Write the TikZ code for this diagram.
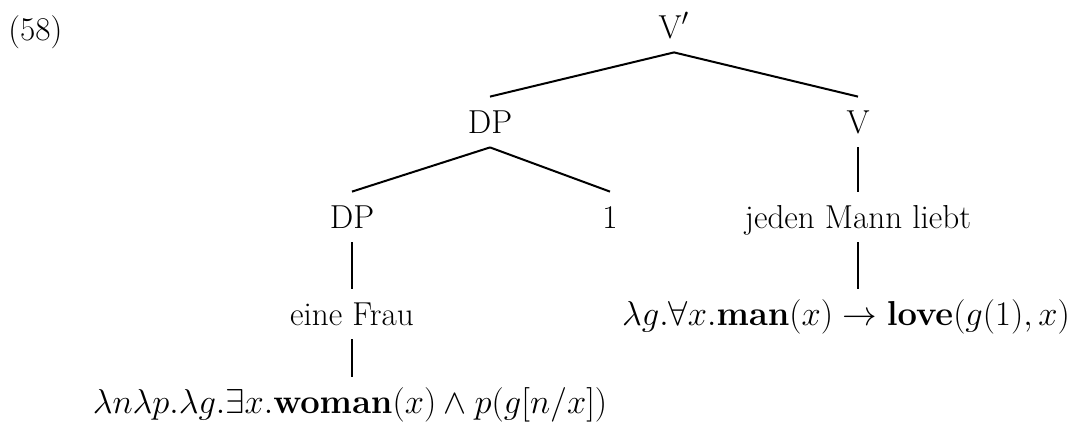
\documentclass[tikz,border=0pt]{standalone}
\usepackage{amsmath,amssymb}
\begin{document}
\begin{tikzpicture}[x=0.5pt,y=-0.5pt,
  lbl/.style={anchor=base, inner xsep=2pt, inner ysep=7pt, text height=11pt, text depth=0pt,
    font=\fontsize{16.6}{20}\selectfont},
  edge/.style={line width=1pt}]
\useasboundingbox (0,0) rectangle (1074,425);
\node[lbl, anchor=base west, inner xsep=0pt] (ex) at (8,40) {(58)};
\node[lbl] (vp) at (674,38) {V$'$};
\node[lbl] (dp) at (490,133) {DP};
\node[lbl] (v) at (858,133) {V};
\node[lbl] (dp2) at (352,228) {DP};
\node[lbl] (one) at (610,228) {1};
\node[lbl] (jml) at (858,228) {jeden Mann liebt};
\node[lbl] (ef) at (352,325) {eine Frau};
\node[lbl] (sem1) at (350,413) {$\lambda n\lambda p.\lambda g.\exists x.\mathbf{woman}(x) \wedge p(g[n/x])$};
\node[lbl, inner xsep=0pt] (sem2) at (846,325) {$\lambda g.\forall x.\mathbf{man}(x) \rightarrow \mathbf{love}(g(1),x)$};
\draw[edge] (vp.south) -- (dp.north);
\draw[edge] (vp.south) -- (v.north);
\draw[edge] (dp.south) -- (dp2.north);
\draw[edge] (dp.south) -- (one.north);
\draw[edge] (v.south) -- (jml.north);
\draw[edge] (dp2.south) -- (ef.north);
\draw[edge] (jml.south) -- (jml.south |- sem2.north);
\draw[edge] (ef.south) -- (ef.south |- sem1.north);
\end{tikzpicture}
\end{document}
